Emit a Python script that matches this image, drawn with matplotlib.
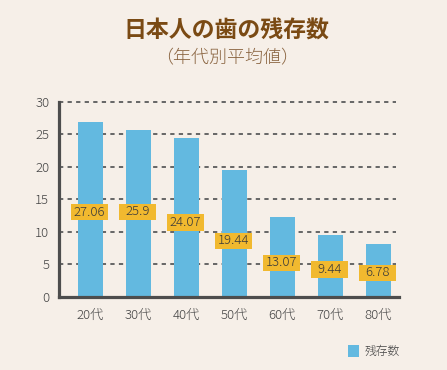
import matplotlib
matplotlib.use("Agg")
import matplotlib.pyplot as plt
from matplotlib.patches import Rectangle

plt.rcParams['font.family'] = ['Noto Sans CJK JP', 'DejaVu Sans']

# Data
categories = ["20代", "30代", "40代", "50代", "60代", "70代", "80代"]
bar_values = [26.9, 25.6, 24.4, 19.5, 12.3, 9.5, 8.1]          # bar heights as drawn
value_labels = ["27.06", "25.9", "24.07", "19.44", "13.07", "9.44", "6.78"]
label_pos = [13.0, 13.05, 11.4, 8.6, 5.2, 4.15, 3.65]           # label centre heights
yticks = [0, 5, 10, 15, 20, 25, 30]
title = "日本人の歯の残存数"
subtitle = "（年代別平均値）"
legend_label = "残存数"

BG = "#f6efe8"
BAR = "#63b9e0"
LABEL_BG = "#f1b92f"
W, H = 447, 370

fig = plt.figure(figsize=(W / 100, H / 100), dpi=100, facecolor=BG)
ax = fig.add_axes([59 / W, (H - 296.7) / H, 340 / W, 195 / H], facecolor=BG)

x = list(range(len(categories)))
ax.set_xlim(-0.656, 6.43)
ax.set_ylim(0, 30)

# gridlines
for t in yticks[1:]:
    ax.plot([-0.656, 6.36], [t, t], color="#666666", lw=1.4,
            linestyle=(0, (2.2, 2.2)), zorder=1, solid_capstyle="butt",
            clip_on=False)

ax.bar(x, bar_values, width=0.51, color=BAR, zorder=2)

# value labels
bw, bh = 0.77, 2.55
for xi, lab, yp in zip(x, value_labels, label_pos):
    ax.add_patch(Rectangle((xi - 0.02 - bw / 2, yp - bh / 2), bw, bh,
                           facecolor=LABEL_BG, edgecolor="none", zorder=3))
    ax.text(xi - 0.02, yp, lab, ha="center", va="center", fontsize=9.5,
            color="#3a3a3a", fontweight="light", zorder=4)

for s in ["top", "right"]:
    ax.spines[s].set_visible(False)
for s in ["left", "bottom"]:
    ax.spines[s].set_linewidth(2.3)
    ax.spines[s].set_color("#4d4d4d")

ax.set_yticks(yticks)
ax.set_yticklabels([str(t) for t in yticks])
ax.set_xticks(x)
ax.set_xticklabels(categories)
ax.tick_params(axis="y", length=0, pad=7, labelsize=9.5, labelcolor="#444444")
ax.tick_params(axis="x", length=0, pad=9, labelsize=9.5, labelcolor="#444444")
for lbl in ax.get_xticklabels() + ax.get_yticklabels():
    lbl.set_fontweight("light")

fig.text(226 / W, 1 - 31 / H, title, ha="center", va="center",
         fontsize=16.5, fontweight="bold", color="#7a4a14")
fig.text(227 / W, 1 - 58 / H, subtitle, ha="center", va="center",
         fontsize=13, color="#8a6440", fontweight="light")

# legend
fig.patches.append(Rectangle((348 / W, 1 - 357 / H), 11 / W, 12 / H,
                             facecolor=BAR, edgecolor="none",
                             transform=fig.transFigure, figure=fig))
fig.text(365 / W, 1 - 351 / H, legend_label, ha="left", va="center",
         fontsize=8.5, color="#444444", fontweight="light")

fig.savefig("out.png", dpi=100, facecolor=BG)
